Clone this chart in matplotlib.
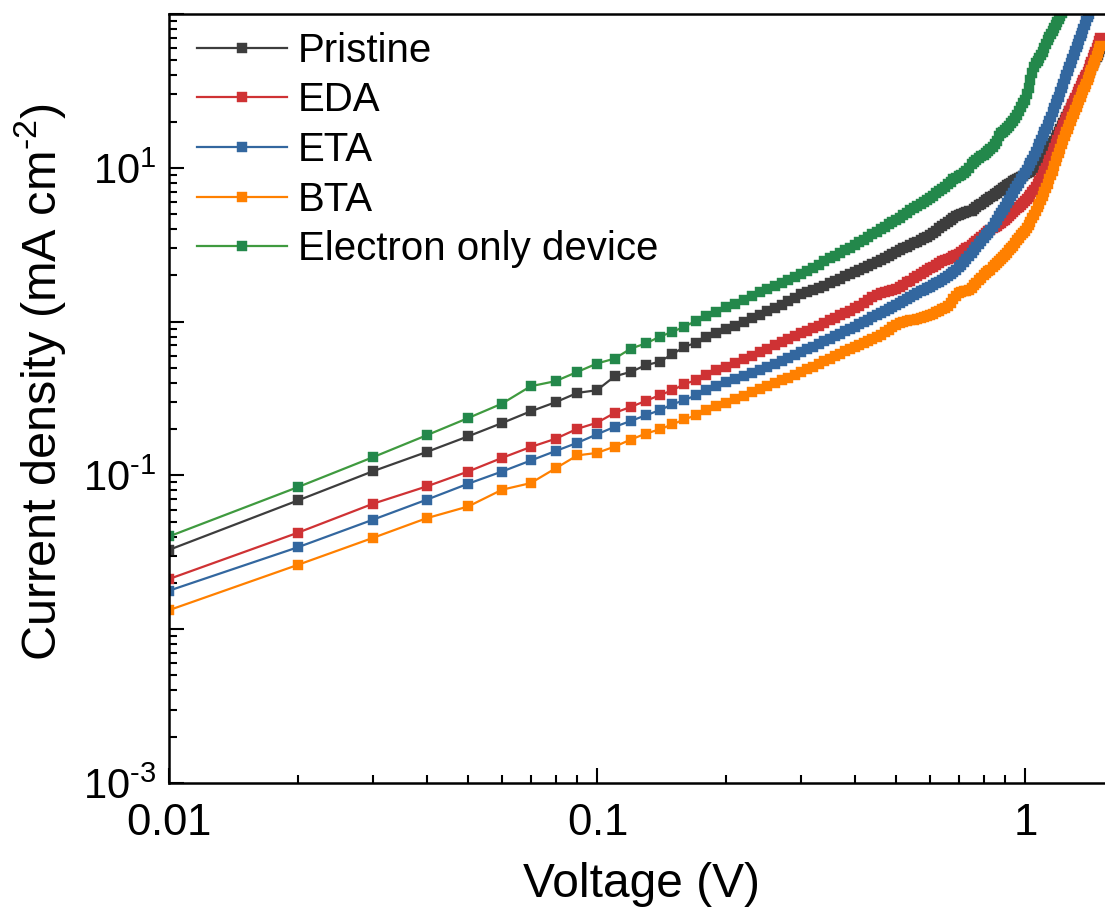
import numpy as np
import matplotlib
matplotlib.use("Agg")
import matplotlib.pyplot as plt
from matplotlib.ticker import LogLocator, FixedLocator, FuncFormatter, NullFormatter

plt.rcParams["font.family"] = ["Liberation Sans", "DejaVu Sans"]
plt.rcParams["mathtext.fontset"] = "custom"
plt.rcParams["mathtext.rm"] = "Liberation Sans"
plt.rcParams["mathtext.it"] = "Liberation Sans:italic"
plt.rcParams["mathtext.bf"] = "Liberation Sans:bold"

# voltage sweep, 0.01 V steps
voltage = np.round(np.arange(1, 151) * 0.01, 2)

labels = ["Pristine", "EDA", "ETA", "BTA", "Electron only device"]
colors = ["#3d3d3d", "#cf3234", "#33679f", "#ff8000", "#23884b"]
line_colors = ["#3d3d3d", "#cf3234", "#33679f", "#ff8000", "#3f9a3f"]

# current density (mA cm-2)
pristine = [
    0.0328, 0.0687, 0.1066, 0.142, 0.1795, 0.219, 0.261, 0.299, 0.344, 0.358,
    0.441, 0.471, 0.521, 0.548, 0.614, 0.685, 0.728, 0.796, 0.845, 0.889,
    0.94, 0.99, 1.05, 1.11, 1.17, 1.23, 1.29, 1.36, 1.43, 1.51,
    1.56, 1.61, 1.66, 1.71, 1.77, 1.83, 1.90, 1.97, 2.04, 2.11,
    2.17, 2.24, 2.31, 2.38, 2.45, 2.53, 2.61, 2.69, 2.77, 2.85,
    2.92, 3.00, 3.07, 3.15, 3.23, 3.31, 3.39, 3.48, 3.57, 3.66,
    3.78, 3.91, 4.05, 4.19, 4.33, 4.45, 4.57, 4.70, 4.84, 4.97,
    5.04, 5.10, 5.15, 5.20, 5.25, 5.40, 5.55, 5.70, 5.85, 6.00,
    6.15, 6.30, 6.45, 6.60, 6.75, 6.90, 7.05, 7.20, 7.38, 7.55,
    7.70, 7.85, 8.00, 8.15, 8.30, 8.45, 8.60, 8.75, 8.90, 9.05,
    9.20, 9.35, 9.50, 9.65, 9.80, 10.0, 10.2, 10.45, 10.7, 11.0,
    11.5, 12.0, 12.6, 13.2, 13.8, 14.4, 15.0, 15.6, 16.3, 17.0,
    17.8, 18.6, 19.5, 20.4, 21.3, 22.3, 23.3, 24.3, 25.3, 26.4,
    27.5, 28.6, 29.8, 31.0, 32.3, 33.6, 35.0, 36.4, 37.8, 39.3,
    41.0, 42.8, 44.6, 46.5, 48.4, 50.4, 52.4, 54.5, 56.6, 58.8,
]
eda = [
    0.0212, 0.0424, 0.0655, 0.0848, 0.106, 0.130, 0.153, 0.173, 0.201, 0.220,
    0.255, 0.279, 0.305, 0.332, 0.358, 0.392, 0.416, 0.448, 0.483, 0.508,
    0.538, 0.570, 0.600, 0.634, 0.668, 0.702, 0.735, 0.769, 0.803, 0.838,
    0.872, 0.907, 0.943, 0.980, 1.02, 1.06, 1.10, 1.14, 1.18, 1.22,
    1.27, 1.32, 1.38, 1.44, 1.49, 1.53, 1.56, 1.58, 1.61, 1.64,
    1.69, 1.74, 1.80, 1.85, 1.91, 1.97, 2.03, 2.09, 2.15, 2.22,
    2.28, 2.34, 2.39, 2.46, 2.52, 2.56, 2.61, 2.66, 2.70, 2.75,
    2.83, 2.91, 2.99, 3.07, 3.15, 3.25, 3.35, 3.45, 3.55, 3.66,
    3.77, 3.88, 3.96, 4.04, 4.12, 4.21, 4.30, 4.39, 4.48, 4.58,
    4.72, 4.86, 5.00, 5.15, 5.30, 5.45, 5.60, 5.75, 5.90, 6.10,
    6.3, 6.5, 6.7, 6.95, 7.2, 7.5, 7.8, 8.2, 8.6, 9.0,
    9.5, 10.0, 10.6, 11.3, 12.0, 12.7, 13.5, 14.3, 15.1, 16.0,
    17.0, 18.0, 19.0, 20.0, 21.0, 22.2, 23.4, 24.6, 25.8, 27.0,
    28.3, 29.7, 31.1, 32.5, 34.0, 35.5, 37.1, 38.7, 40.3, 42.0,
    44.2, 46.5, 48.9, 51.4, 54.0, 56.9, 59.9, 63.1, 66.4, 70.0,
]
eta = [
    0.0178, 0.0341, 0.0516, 0.0695, 0.0883, 0.106, 0.125, 0.144, 0.163, 0.185,
    0.207, 0.226, 0.246, 0.265, 0.290, 0.308, 0.332, 0.358, 0.380, 0.405,
    0.424, 0.444, 0.465, 0.487, 0.510, 0.533, 0.557, 0.582, 0.607, 0.634,
    0.661, 0.688, 0.716, 0.745, 0.776, 0.805, 0.834, 0.863, 0.893, 0.924,
    0.958, 0.993, 1.03, 1.065, 1.10, 1.135, 1.17, 1.205, 1.24, 1.28,
    1.32, 1.36, 1.405, 1.45, 1.49, 1.53, 1.57, 1.61, 1.645, 1.68,
    1.72, 1.77, 1.82, 1.87, 1.93, 1.99, 2.05, 2.11, 2.18, 2.25,
    2.35, 2.45, 2.56, 2.67, 2.78, 2.92, 3.06, 3.20, 3.35, 3.50,
    3.63, 3.76, 3.95, 4.15, 4.35, 4.60, 4.85, 5.10, 5.35, 5.60,
    5.90, 6.20, 6.55, 6.90, 7.30, 7.65, 8.00, 8.40, 8.80, 9.20,
    9.70, 10.2, 10.7, 11.3, 12.0, 12.7, 13.5, 14.3, 15.1, 16.0,
    17.0, 18.0, 19.0, 20.2, 21.5, 22.9, 24.3, 25.8, 27.4, 29.0,
    31.0, 33.0, 35.2, 37.6, 40.0, 42.6, 45.3, 48.1, 51.0, 54.0,
    57.3, 60.7, 64.2, 67.9, 71.8, 75.8, 80.0, 84.5, 89.5, 95.0,
    100.0, 106.0, 112.0,
]
bta = [
    0.0133, 0.0262, 0.0393, 0.0527, 0.0628, 0.0807, 0.0891, 0.111, 0.135, 0.140,
    0.154, 0.171, 0.187, 0.199, 0.215, 0.231, 0.246, 0.265, 0.282, 0.296,
    0.312, 0.329, 0.346, 0.363, 0.381, 0.398, 0.415, 0.433, 0.451, 0.469,
    0.489, 0.510, 0.531, 0.553, 0.575, 0.596, 0.618, 0.640, 0.662, 0.685,
    0.706, 0.727, 0.750, 0.773, 0.796, 0.824, 0.854, 0.885, 0.916, 0.948,
    0.975, 1.00, 1.01, 1.02, 1.03, 1.04, 1.05, 1.065, 1.08, 1.10,
    1.12, 1.15, 1.17, 1.20, 1.22, 1.26, 1.33, 1.41, 1.47, 1.53,
    1.55, 1.57, 1.59, 1.61, 1.66, 1.72, 1.79, 1.86, 1.93, 2.00,
    2.06, 2.12, 2.18, 2.25, 2.32, 2.39, 2.46, 2.54, 2.62, 2.70,
    2.80, 2.90, 3.00, 3.12, 3.24, 3.37, 3.50, 3.63, 3.76, 3.90,
    4.07, 4.25, 4.45, 4.70, 4.95, 5.25, 5.55, 5.85, 6.20, 6.55,
    6.95, 7.40, 7.90, 8.45, 9.00, 9.60, 10.3, 11.0, 11.7, 12.5,
    13.3, 14.2, 15.1, 16.0, 17.0, 18.0, 19.1, 20.2, 21.3, 22.5,
    23.7, 25.0, 26.3, 27.6, 29.0, 30.5, 32.0, 33.6, 35.3, 37.0,
    39.0, 41.1, 43.3, 45.6, 48.0, 50.6, 53.3, 56.1, 59.0, 62.0,
]
electron_only = [
    0.0401, 0.0839, 0.1315, 0.1824, 0.236, 0.293, 0.380, 0.410, 0.471, 0.534,
    0.575, 0.668, 0.721, 0.796, 0.859, 0.925, 1.01, 1.086, 1.158, 1.238,
    1.31, 1.39, 1.47, 1.55, 1.63, 1.71, 1.79, 1.87, 1.95, 2.04,
    2.14, 2.24, 2.35, 2.46, 2.58, 2.69, 2.80, 2.91, 3.03, 3.15,
    3.28, 3.41, 3.55, 3.70, 3.85, 3.99, 4.13, 4.28, 4.43, 4.58,
    4.75, 4.92, 5.10, 5.28, 5.46, 5.63, 5.80, 5.98, 6.16, 6.35,
    6.58, 6.81, 7.05, 7.30, 7.55, 7.83, 8.12, 8.42, 8.60, 8.80,
    9.0, 9.2, 9.6, 10.0, 10.6, 10.9, 11.2, 11.5, 11.9, 12.2,
    12.5, 12.8, 13.2, 13.7, 14.3, 15.0, 16.2, 16.8, 17.2, 17.7,
    18.2, 18.8, 19.5, 20.3, 21.2, 22.2, 23.5, 25.0, 26.3, 27.7,
    30.0, 33.0, 37.0, 41.5, 45.5, 48.0, 49.5, 51.5, 54.0, 57.0,
    60.5, 64.0, 67.5, 71.0, 74.5, 78.0, 81.5, 85.0, 89.0, 93.0,
    97.0, 101.0, 106.0, 111.0, 116.0,
]
series = [pristine, eda, eta, bta, electron_only]

fig = plt.figure(figsize=(11.05, 9.23), dpi=100)
ax = fig.add_axes([169 / 1105, 1 - 783 / 923, 936 / 1105, 769 / 923])

for j, lab, c, lc in zip(series, labels, colors, line_colors):
    ax.plot(voltage[:len(j)], j, color=lc, lw=1.6, marker="s", ms=7.2,
            mfc=c, mec=c, mew=0.3, label=lab)

ax.set_xscale("log")
ax.set_yscale("log")
ax.set_xlim(0.01, 1.538)
ax.set_ylim(1e-3, 1e2)

ax.xaxis.set_major_locator(FixedLocator([0.01, 0.1, 1]))
ax.xaxis.set_major_formatter(FuncFormatter(lambda v, pos: r"$\mathregular{%g}$" % v))
ax.xaxis.set_minor_locator(LogLocator(base=10, subs=np.arange(2, 10), numticks=20))
ax.xaxis.set_minor_formatter(NullFormatter())


def ylab(v, pos):
    e = int(round(np.log10(v)))
    if e % 2 == 0:
        return ""
    s = str(e).replace("-", "\u2010")
    return r"$\mathregular{10^{%s}}$" % s


ax.yaxis.set_major_locator(LogLocator(base=10, numticks=20))
ax.yaxis.set_major_formatter(FuncFormatter(ylab))
ax.yaxis.set_minor_locator(LogLocator(base=10, subs=np.arange(2, 10), numticks=20))
ax.yaxis.set_minor_formatter(NullFormatter())

ax.tick_params(which="both", direction="in", width=1.5, top=False, right=False)
ax.tick_params(which="major", length=11)
ax.tick_params(axis="x", which="major", labelsize=31.5, pad=14.5)
ax.tick_params(axis="y", which="major", labelsize=30, pad=9)
ax.tick_params(which="minor", length=5.5)
for s in ["left", "bottom", "top"]:
    ax.spines[s].set_linewidth(1.8)
ax.spines["right"].set_visible(False)

ax.set_xlabel("Voltage (V)", fontsize=34.5)
ax.xaxis.set_label_coords(0.505, -0.1025)
ax.set_ylabel("Current density (mA cm$^{\\mathregular{\u20102}}$)", fontsize=35)
ax.yaxis.set_label_coords(-0.108, 0.521)

ax.legend(loc="upper left", bbox_to_anchor=(0.0299, 0.977), frameon=False,
          fontsize=29, handlelength=2.23, handletextpad=0.27, labelspacing=0.29,
          borderaxespad=0, borderpad=0, numpoints=1)

fig.savefig("out.png", dpi=100)
